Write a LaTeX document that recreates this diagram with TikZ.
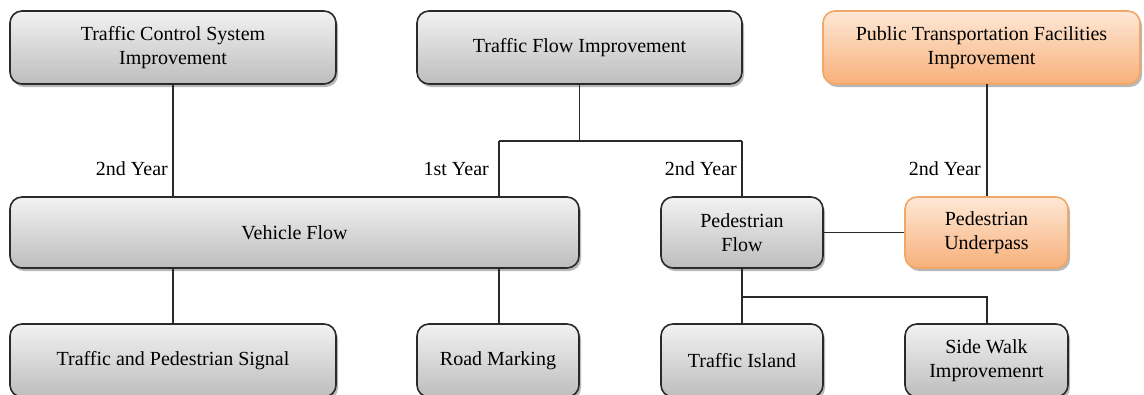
\documentclass[tikz,border=0pt]{standalone}
\usepackage{fontspec}
\setmainfont{Liberation Serif}
\usetikzlibrary{shadows}
\definecolor{gtop}{HTML}{F2F2F2}
\definecolor{gbot}{HTML}{BDBDBD}
\definecolor{otop}{HTML}{FEE8D6}
\definecolor{obot}{HTML}{F7B07A}
\definecolor{oline}{HTML}{F0A868}
\definecolor{gline}{HTML}{2A2A2A}
\tikzset{
  box/.style={rectangle, rounded corners=12pt, line width=1.6pt, draw=gline,
    top color=gtop, bottom color=gbot, align=center, inner sep=0pt,
    font=\fontsize{20}{24}\selectfont,
    drop shadow={shadow xshift=2pt, shadow yshift=-3pt, fill=black, opacity=0.28}},
  obox/.style={box, draw=oline, top color=otop, bottom color=obot},
  conn/.style={line width=1.3pt, draw=gline},
  yr/.style={font=\fontsize{20}{24}\selectfont, anchor=base east, inner sep=0pt}
}
\newcommand{\bx}[7]{% style, name, x1, y1, x2, y2, text
  \node[#1, minimum width={(#5-#3)*1pt}, minimum height={(#6-#4)*1pt}] (#2) at ({(#3+#5)/2},{(#4+#6)/2}) {#7};}
\begin{document}
\begin{tikzpicture}[x=1pt,y=-1pt]
\useasboundingbox (0,0) rectangle (1144,394);
\begin{scope}
\clip (0,0) rectangle (1144,394);
% top row
\bx{box}{tcs}{10}{11}{336}{84}{Traffic Control System\\Improvement}
\bx{box}{tfi}{417}{11}{742}{84}{Traffic Flow Improvement}
\bx{obox}{ptf}{823}{11}{1140}{84}{Public Transportation Facilities\\Improvement}
% middle row
\bx{box}{vf}{10}{197}{579}{268}{Vehicle Flow}
\bx{box}{pf}{661}{197}{823}{268}{Pedestrian\\Flow}
\bx{obox}{pu}{905}{197}{1068}{268}{Pedestrian\\Underpass}
% bottom row
\bx{box}{tps}{10}{324}{336}{397}{Traffic and Pedestrian Signal}
\bx{box}{rm}{417}{324}{579}{397}{Road Marking}
\bx{box}{ti}{661}{324}{823}{397}{Traffic Island}
\bx{box}{sw}{905}{324}{1068}{397}{Side Walk\\Improvemenrt}
% connector coordinates
\coordinate (a1) at (499,141);
\coordinate (a2) at (742,141);
\coordinate (j2) at (742,297);
\coordinate (b2) at (987,297);
\coordinate (p1) at (987,84);
% connectors
\draw[conn] (tcs.south) -- (tcs.south |- vf.north);
\draw[conn] (tfi.south) -- (tfi.south |- a1);
\draw[conn] (a1) -- (a2);
\draw[conn] (a1) -- (a1 |- vf.north);
\draw[conn] (a2) -- (a2 |- pf.north);
\draw[conn] (p1) -- (p1 |- pu.north);
\draw[conn] (pf.east) -- (pu.west);
\draw[conn] (tcs.south |- vf.south) -- (tcs.south |- tps.north);
\draw[conn] (a1 |- vf.south) -- (a1 |- rm.north);
\draw[conn] (j2 |- pf.south) -- (j2 |- ti.north);
\draw[conn] (j2) -- (b2) -- (b2 |- sw.north);
% labels
\node[yr] (l1) at (168,175) {2nd Year};
\node[yr] (l2) at (489,175) {1st Year};
\node[yr] (l3) at (737,175) {2nd Year};
\node[yr] (l4) at (981,175) {2nd Year};
\end{scope}
\end{tikzpicture}
\end{document}
